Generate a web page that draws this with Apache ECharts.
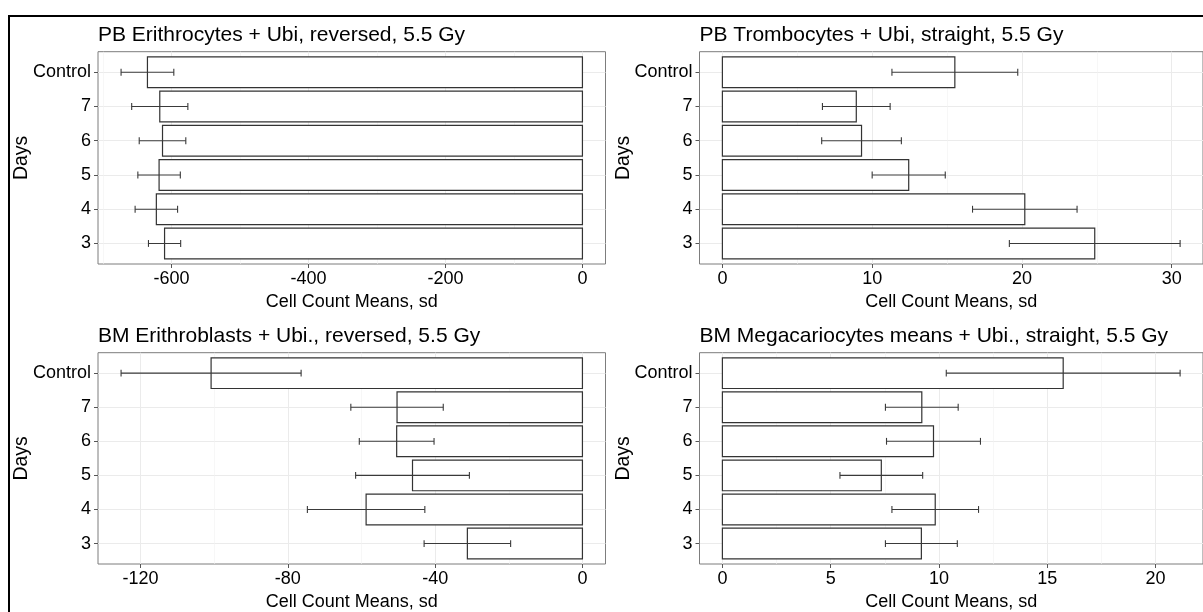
<!DOCTYPE html>
<html><head><meta charset="utf-8">
<script src="https://cdn.jsdelivr.net/npm/echarts@6/dist/echarts.min.js"></script>
<style>html,body{margin:0;padding:0;background:#fff;overflow:hidden}#c{width:1203px;height:612px}</style>
</head><body><div id="c"></div>
<script>
// ---- data ----
const days = ['3', '4', '5', '6', '7', 'Control'];
const panelTitles = [
  'PB Erithrocytes + Ubi, reversed, 5.5 Gy',
  'PB Trombocytes + Ubi, straight, 5.5 Gy',
  'BM Erithroblasts + Ubi., reversed, 5.5 Gy',
  'BM Megacariocytes means + Ubi., straight, 5.5 Gy'
];
const xTitle = 'Cell Count Means, sd';
const yTitle = 'Days';

const pbEryMean = [-610, -622, -618, -613, -617, -635];
const pbErySd   = [23.5, 31, 31, 34, 41, 38.5];
const pbTroMean = [24.86, 20.19, 12.44, 9.29, 8.94, 15.52];
const pbTroSd   = [5.7, 3.49, 2.44, 2.66, 2.26, 4.2];
const bmEbMean  = [-31.25, -58.75, -46.15, -50.45, -50.35, -100.85];
const bmEbSd    = [11.75, 15.95, 15.45, 10.15, 12.55, 24.45];
const bmMkMean  = [9.19, 9.83, 7.34, 9.75, 9.21, 15.74];
const bmMkSd    = [1.66, 2.0, 1.91, 2.17, 1.68, 5.4];

const ticksA = [-600, -400, -200, 0];
const minorA = [-700, -500, -300, -100];
const ticksB = [0, 10, 20, 30];
const minorB = [5, 15, 25];
const ticksC = [-120, -80, -40, 0];
const minorC = [-100, -60, -20];
const ticksD = [0, 5, 10, 15, 20];
const minorD = [2.5, 7.5, 12.5, 17.5];

// ---- layout ----
const panels = [
  {mean: pbEryMean, sd: pbErySd, ticks: ticksA, minor: minorA, left: 98, top: 51.7, height: 212.3},
  {mean: pbTroMean, sd: pbTroSd, ticks: ticksB, minor: minorB, left: 699.5, top: 51.7, height: 212.3},
  {mean: bmEbMean, sd: bmEbSd, ticks: ticksC, minor: minorC, left: 98, top: 352.7, height: 211.6},
  {mean: bmMkMean, sd: bmMkSd, ticks: ticksD, minor: minorD, left: 699.5, top: 352.7, height: 211.6}
];
const W = 507.5;
const FONT = "'Liberation Sans', Arial, sans-serif";
const catIdx = days.map((d, i) => i);

const option = {
  animation: false,
  backgroundColor: '#fff',
  title: [], grid: [], xAxis: [], yAxis: [], series: [],
  graphic: [{
    type: 'rect', shape: {x: 9, y: 16, width: 1300, height: 700},
    style: {fill: 'none', stroke: '#000', lineWidth: 2}, silent: true, z: 100
  }]
};

panels.forEach((p, i) => {
  let lo = 0, hi = 0;
  p.mean.forEach((m, k) => { lo = Math.min(lo, m - p.sd[k]); hi = Math.max(hi, m + p.sd[k]); });
  const pad = (hi - lo) * 0.05;
  const xmin = lo - pad, xmax = hi + pad;

  option.title.push({
    text: panelTitles[i], left: p.left, top: p.top - 26.5, padding: 0,
    textStyle: {fontFamily: FONT, fontSize: 21, fontWeight: 'normal', color: '#000'}
  });
  option.grid.push({
    left: p.left, top: p.top, width: W, height: p.height,
    show: true, borderColor: '#7d7d7d', borderWidth: 1, backgroundColor: 'transparent'
  });
  option.xAxis.push({
    type: 'value', gridIndex: i, min: xmin, max: xmax, position: 'bottom',
    axisLine: {show: false, onZero: false},
    axisTick: {show: true, length: 4, lineStyle: {color: '#555'}, customValues: p.ticks},
    axisLabel: {customValues: p.ticks, margin: 6, color: '#000', fontFamily: FONT, fontSize: 18},
    splitLine: {show: true, lineStyle: {color: '#ebebeb', width: 1}},
    name: xTitle, nameLocation: 'middle', nameGap: 29, nameMoveOverlap: false,
    nameTextStyle: {fontFamily: FONT, fontSize: 18, color: '#000'}
  });
  option.xAxis.push({
    type: 'value', gridIndex: i, min: xmin, max: xmax, position: 'bottom',
    axisLine: {show: false, onZero: false},
    axisTick: {show: false, customValues: p.minor},
    axisLabel: {show: false, customValues: p.minor},
    splitLine: {show: true, lineStyle: {color: '#f2f2f2', width: 0.6}}
  });
  option.yAxis.push({
    type: 'value', gridIndex: i, min: -0.6, max: days.length - 0.4, position: 'left',
    axisLine: {show: false, onZero: false},
    axisTick: {show: true, length: 4, lineStyle: {color: '#555'}, customValues: catIdx},
    axisLabel: {customValues: catIdx, margin: 7, color: '#000', fontFamily: FONT, fontSize: 18,
      formatter: v => days[Math.round(v)]},
    splitLine: {show: true, lineStyle: {color: '#ebebeb', width: 1}},
    name: yTitle, nameLocation: 'middle', nameGap: 66, nameMoveOverlap: false,
    nameTextStyle: {fontFamily: FONT, fontSize: 19.5, color: '#000'}
  });
  const data = p.mean.map((m, k) => [k, m, p.sd[k]]);
  option.series.push({
    type: 'custom', xAxisIndex: 2 * i, yAxisIndex: i, encode: {x: 1, y: 0}, data: data, z: 2,
    renderItem: (params, api) => {
      const k = api.value(0), m = api.value(1);
      const p0 = api.coord([0, k]), p1 = api.coord([m, k]);
      const h = api.size([0, 0.9])[1];
      return {
        type: 'rect',
        shape: {x: Math.min(p0[0], p1[0]), y: p0[1] - h / 2, width: Math.abs(p1[0] - p0[0]), height: h},
        style: {fill: '#fff', stroke: '#333', lineWidth: 1.2}
      };
    }
  });
  option.series.push({
    type: 'custom', xAxisIndex: 2 * i, yAxisIndex: i, encode: {x: 1, y: 0}, data: data, z: 3,
    renderItem: (params, api) => {
      const k = api.value(0), m = api.value(1), s = api.value(2);
      const a = api.coord([m - s, k]), b = api.coord([m + s, k]);
      const c = api.size([0, 0.2])[1] / 2;
      const st = {stroke: '#3a3a3a', lineWidth: 1.1};
      return {
        type: 'group', children: [
          {type: 'line', shape: {x1: a[0], y1: a[1], x2: b[0], y2: b[1]}, style: st},
          {type: 'line', shape: {x1: a[0], y1: a[1] - c, x2: a[0], y2: a[1] + c}, style: st},
          {type: 'line', shape: {x1: b[0], y1: b[1] - c, x2: b[0], y2: b[1] + c}, style: st}
        ]
      };
    }
  });
});

const chart = echarts.init(document.getElementById('c'), null, {renderer: 'canvas'});
chart.setOption(option);
</script></body></html>
